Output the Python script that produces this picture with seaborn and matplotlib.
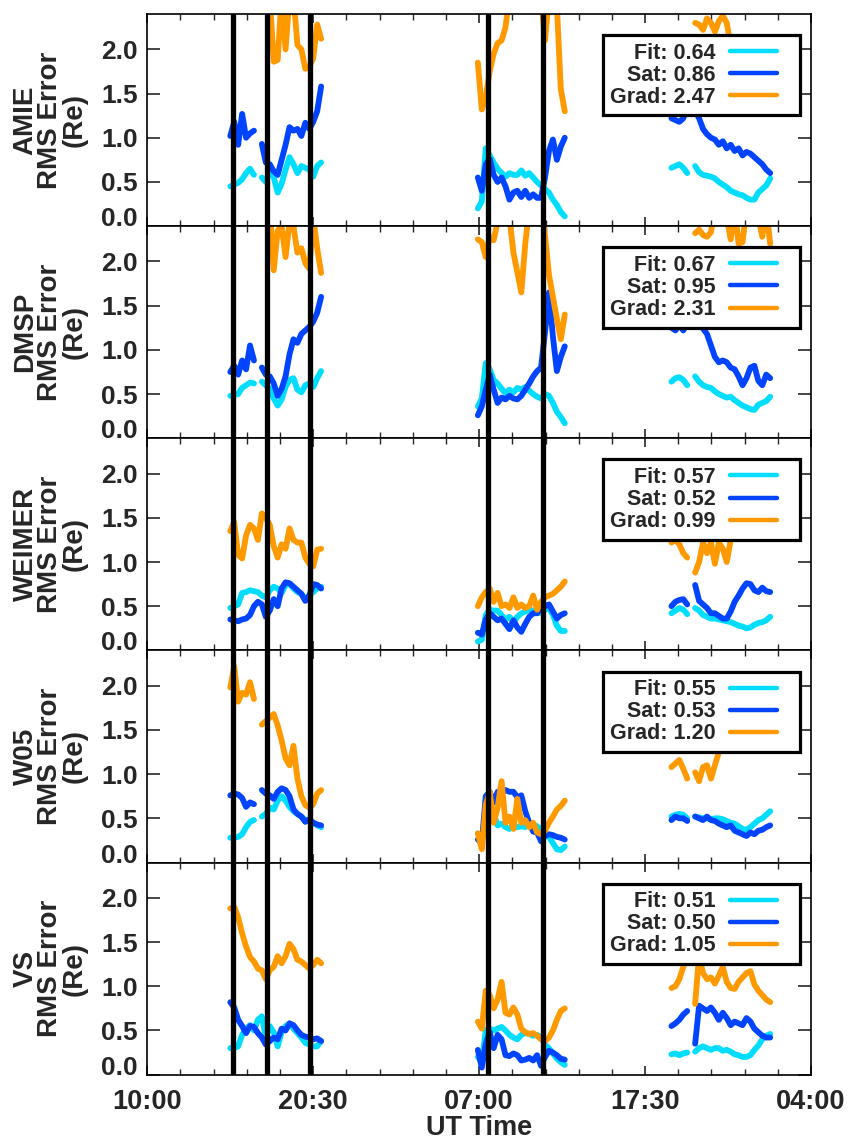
import numpy as np
import pandas as pd
import matplotlib
matplotlib.use("Agg")
import matplotlib.pyplot as plt
from matplotlib.lines import Line2D
from matplotlib.legend_handler import HandlerLine2D
import seaborn as sns

nan = np.nan

# ---------------------------------------------------------------- data
models = ["AMIE", "DMSP", "WEIMER", "W05", "VS"]
metrics = ["Fit", "Sat", "Grad"]
fit_rms = [0.64, 0.67, 0.57, 0.55, 0.51]
sat_rms = [0.86, 0.95, 0.52, 0.53, 0.50]
grad_rms = [2.47, 2.31, 0.99, 1.20, 1.05]

# three observation passes, 15-minute cadence
pass_starts = ["2000-01-01 15:15", "2000-01-02 06:55", "2000-01-02 19:10"]
pass_ends = ["2000-01-01 21:00", "2000-01-02 12:25", "2000-01-03 01:25"]

event_times = ["2000-01-01 15:24", "2000-01-01 17:35", "2000-01-01 20:19",
               "2000-01-02 07:34", "2000-01-02 11:03"]

tick_labels = ["10:00", "20:30", "07:00", "17:30", "04:00"]

amie_fit = [0.45, 0.47, 0.49, 0.53, 0.60, 0.65, 0.58, nan, 0.55, 0.50, 0.63, 0.55,
            0.38, 0.48, 0.64, 0.78, 0.70, 0.60, 0.68, 0.66, 0.64, 0.56, 0.68, 0.72,
            0.20, 0.28, 0.88, 0.80, 0.72, 0.65, 0.60, 0.56, 0.60, 0.58, 0.58, 0.63,
            0.57, 0.60, 0.55, 0.50, 0.46, 0.42, 0.38, 0.30, 0.24, 0.16, 0.11,
            0.66, 0.68, 0.70, 0.66, 0.60, nan, 0.68, 0.61, 0.58, 0.57, 0.56, 0.54,
            0.50, 0.47, 0.44, 0.40, 0.38, 0.36, 0.35, 0.32, 0.30, 0.30, 0.38, 0.42,
            0.46, 0.54]
amie_sat = [1.02, 1.18, 0.92, 1.27, 1.00, 1.05, 1.08, nan, 0.93, 0.72, 0.70, 0.62,
            0.58, 0.75, 0.92, 1.12, 1.08, 1.10, 1.02, 1.17, 1.10, 1.18, 1.30, 1.58,
            0.55, 0.40, 0.70, 0.76, 0.58, 0.50, 0.55, 0.45, 0.30, 0.38, 0.40, 0.33,
            0.40, 0.32, 0.36, 0.32, 0.32, 0.55, 0.85, 0.98, 0.75, 0.90, 1.00,
            1.22, 1.20, 1.18, 1.22, 1.35, nan, 1.30, 1.22, 1.10, 1.04, 1.00, 0.98,
            0.92, 0.96, 0.88, 0.92, 0.85, 0.88, 0.80, 0.84, 0.82, 0.78, 0.74, 0.70,
            0.64, 0.60]
amie_grad = [nan, nan, nan, nan, nan, nan, nan, nan, nan, nan, 2.60, 1.86,
             1.88, 2.60, 2.00, 2.60, 2.60, 2.05, 2.00, 1.78, 1.80, 1.90, 2.28, 2.12,
             1.85, 1.32, 1.45, 1.75, 1.95, 2.07, 2.10, 2.25, 2.60, 2.80, 3.00, 2.90,
             3.10, 2.90, 2.70, 2.80, 2.60, 2.10, 2.60, 2.70, 2.50, 1.55, 1.30,
             1.95, 2.00, 1.90, 2.05, 2.00, nan, 2.30, 2.28, 2.22, 2.35, 2.30, 2.20,
             2.32, 2.38, 2.30, 2.05, 1.95, 2.00, 1.90, 1.85, 1.90, 1.80, 1.85, 1.75,
             1.80, 1.70]

dmsp_fit = [0.48, 0.49, 0.50, 0.57, 0.60, 0.63, 0.62, nan, 0.64, 0.60, 0.56, 0.45,
            0.37, 0.44, 0.58, 0.66, 0.68, 0.55, 0.52, 0.60, 0.62, 0.58, 0.68, 0.76,
            0.36, 0.45, 0.85, 0.78, 0.66, 0.62, 0.56, 0.51, 0.55, 0.52, 0.57, 0.55,
            0.58, 0.54, 0.50, 0.47, 0.45, 0.50, 0.48, 0.40, 0.30, 0.24, 0.17,
            0.64, 0.68, 0.69, 0.66, 0.60, nan, 0.70, 0.64, 0.60, 0.58, 0.57, 0.53,
            0.50, 0.48, 0.46, 0.47, 0.43, 0.40, 0.37, 0.35, 0.33, 0.32, 0.38, 0.40,
            0.42, 0.47]
dmsp_sat = [0.75, 0.82, 0.72, 0.88, 0.78, 1.05, 0.88, nan, 0.80, 0.72, 0.70, 0.62,
            0.48, 0.56, 0.70, 0.95, 1.12, 1.08, 1.18, 1.22, 1.26, 1.32, 1.42, 1.60,
            0.26, 0.36, 0.55, 0.72, 0.55, 0.40, 0.46, 0.44, 0.48, 0.45, 0.44, 0.48,
            0.55, 0.62, 0.70, 0.76, 0.80, 1.20, 1.65, 1.15, 0.76, 0.92, 1.04,
            1.25, 1.22, 1.28, 1.22, 1.30, nan, 1.40, 1.30, 1.24, 1.18, 1.05, 0.92,
            0.86, 0.88, 0.86, 0.80, 0.78, 0.70, 0.60, 0.68, 0.80, 0.82, 0.65, 0.60,
            0.72, 0.68]
dmsp_grad = [nan, nan, nan, nan, nan, nan, nan, nan, nan, nan, 2.60, 1.90,
             2.35, 2.40, 2.05, 2.45, 2.40, 2.10, 2.15, 1.98, 1.92, 2.50, 2.15, 1.87,
             2.25, 2.22, 2.05, 2.28, 2.24, 2.45, 2.60, 2.70, 2.50, 2.10, 1.88, 1.65,
             2.20, 2.60, 2.70, 2.70, 2.60, 2.30, 1.85, 1.60, 1.35, 1.12, 1.40,
             2.60, 2.70, 2.60, 2.70, 2.60, nan, 2.32, 2.36, 2.30, 2.28, 2.33, 2.60,
             2.70, 2.60, 2.50, 2.25, 2.60, 2.20, 2.22, 2.60, 2.70, 2.60, 2.50, 2.28,
             2.60, 2.20]

weimer_fit = [0.48, 0.50, 0.52, 0.65, 0.66, 0.68, 0.67, 0.66, 0.62, 0.60, 0.68, 0.72,
              0.70, 0.65, 0.74, 0.75, 0.70, 0.66, 0.64, 0.58, 0.62, 0.66, 0.70, 0.72,
              0.10, 0.12, 0.40, 0.46, 0.45, 0.45, 0.40, 0.35, 0.38, 0.32, 0.38, 0.42,
              0.44, 0.46, 0.45, 0.44, 0.42, 0.46, 0.48, 0.40, 0.28, 0.22, 0.22,
              0.42, 0.45, 0.48, 0.46, 0.41, nan, 0.48, 0.45, 0.40, 0.38, 0.36, 0.36,
              0.35, 0.34, 0.33, 0.32, 0.30, 0.28, 0.27, 0.25, 0.26, 0.29, 0.31, 0.32,
              0.34, 0.38]
weimer_sat = [0.35, 0.34, 0.33, 0.35, 0.36, 0.40, 0.50, 0.55, 0.52, 0.38, 0.45, 0.58,
              0.50, 0.70, 0.77, 0.76, 0.72, 0.68, 0.64, 0.56, 0.62, 0.75, 0.74, 0.70,
              0.20, 0.18, 0.35, 0.42, 0.38, 0.34, 0.36, 0.30, 0.24, 0.34, 0.26, 0.21,
              0.30, 0.38, 0.42, 0.42, 0.48, 0.50, 0.52, 0.44, 0.36, 0.40, 0.42,
              0.50, 0.55, 0.57, 0.58, 0.52, nan, 0.74, 0.56, 0.52, 0.48, 0.42, 0.42,
              0.39, 0.36, 0.36, 0.44, 0.55, 0.62, 0.70, 0.76, 0.75, 0.68, 0.66, 0.71,
              0.67, 0.66]
weimer_grad = [1.35, 1.45, 1.08, 1.04, 1.30, 1.42, 1.38, 1.25, 1.55, 1.50, 1.42, 1.18,
               1.05, 1.20, 1.15, 1.38, 1.25, 1.22, 1.22, 1.05, 0.98, 0.95, 1.14, 1.15,
               0.50, 0.60, 0.66, 0.70, 0.55, 0.65, 0.50, 0.52, 0.48, 0.60, 0.48, 0.52,
               0.48, 0.50, 0.62, 0.46, 0.55, 0.60, 0.62, 0.64, 0.68, 0.72, 0.78,
               1.22, 1.25, 1.20, 1.10, 1.05, nan, 0.88, 1.00, 1.22, 1.10, 1.22, 0.98,
               1.22, 1.15, 1.00, 1.25, 1.45, 1.60, 1.50, 1.70, 1.60, 1.55, 1.70, 1.65,
               1.55, 1.60]

w05_fit = [0.28, 0.28, 0.29, 0.32, 0.40, 0.46, 0.48, nan, 0.52, 0.55, 0.62, 0.60,
           0.70, 0.75, 0.70, 0.63, 0.58, 0.55, 0.52, 0.48, 0.47, 0.45, 0.42, 0.40,
           0.33, 0.25, 0.60, 0.66, 0.55, 0.42, 0.44, 0.40, 0.38, 0.42, 0.40, 0.41,
           0.40, 0.45, 0.43, 0.41, 0.37, 0.33, 0.29, 0.22, 0.15, 0.14, 0.18,
           0.52, 0.54, 0.55, 0.54, 0.50, nan, 0.52, 0.51, 0.50, 0.50, 0.49, 0.50,
           0.50, 0.49, 0.47, 0.45, 0.44, 0.41, 0.38, 0.37, 0.40, 0.44, 0.48, 0.50,
           0.54, 0.58]
w05_sat = [0.76, 0.78, 0.77, 0.73, 0.63, 0.68, 0.66, nan, 0.82, 0.78, 0.76, 0.72,
           0.80, 0.84, 0.82, 0.75, 0.60, 0.55, 0.52, 0.46, 0.49, 0.45, 0.43, 0.42,
           0.26, 0.22, 0.75, 0.80, 0.68, 0.80, 0.78, 0.82, 0.80, 0.80, 0.74, 0.76,
           0.58, 0.45, 0.35, 0.34, 0.24, 0.30, 0.32, 0.31, 0.29, 0.28, 0.26,
           0.48, 0.52, 0.50, 0.50, 0.47, nan, 0.52, 0.50, 0.48, 0.52, 0.48, 0.47,
           0.44, 0.42, 0.40, 0.42, 0.36, 0.34, 0.32, 0.30, 0.34, 0.32, 0.36, 0.37,
           0.40, 0.42]
w05_grad = [1.98, 2.22, 1.82, 1.92, 1.90, 2.04, 1.85, nan, 1.56, 1.60, 1.64, 1.68,
            1.55, 1.38, 1.18, 1.10, 1.32, 0.95, 0.75, 0.65, 0.62, 0.66, 0.78, 0.82,
            0.33, 0.15, 0.65, 0.80, 0.45, 0.62, 0.92, 0.45, 0.52, 0.38, 0.72, 0.45,
            0.48, 0.40, 0.45, 0.34, 0.32, 0.36, 0.45, 0.52, 0.60, 0.64, 0.70,
            1.08, 1.12, 1.16, 1.06, 0.95, nan, 1.02, 0.92, 1.08, 1.10, 0.95, 1.10,
            1.25, 1.45, 1.55, 1.60, 1.50, 1.65, 1.55, 1.60, 1.50, 1.55, 1.45, 1.50,
            1.42, 1.48]

vs_fit = [0.30, 0.30, 0.32, 0.45, 0.52, 0.56, 0.50, 0.62, 0.66, 0.42, 0.55, 0.48,
          0.32, 0.48, 0.55, 0.58, 0.52, 0.47, 0.42, 0.36, 0.34, 0.32, 0.32, 0.38,
          0.20, 0.14, 0.50, 0.52, 0.50, 0.52, 0.54, 0.50, 0.45, 0.42, 0.40, 0.45,
          0.47, 0.46, 0.44, 0.45, 0.42, 0.34, 0.30, 0.24, 0.18, 0.14, 0.11,
          0.23, 0.24, 0.22, 0.24, 0.25, nan, 0.26, 0.30, 0.32, 0.30, 0.28, 0.30,
          0.30, 0.27, 0.28, 0.26, 0.23, 0.22, 0.20, 0.20, 0.22, 0.28, 0.33, 0.40,
          0.44, 0.46]
vs_sat = [0.82, 0.76, 0.62, 0.55, 0.47, 0.55, 0.54, 0.47, 0.42, 0.34, 0.38, 0.42,
          0.40, 0.52, 0.50, 0.58, 0.56, 0.50, 0.45, 0.43, 0.42, 0.40, 0.41, 0.38,
          0.28, 0.08, 0.35, 0.48, 0.30, 0.45, 0.40, 0.22, 0.21, 0.24, 0.22, 0.16,
          0.17, 0.19, 0.16, 0.22, 0.10, 0.20, 0.27, 0.25, 0.22, 0.18, 0.17,
          0.55, 0.58, 0.62, 0.68, 0.72, nan, 0.35, 0.78, 0.75, 0.72, 0.76, 0.70,
          0.62, 0.70, 0.64, 0.56, 0.60, 0.58, 0.56, 0.64, 0.60, 0.52, 0.48, 0.44,
          0.42, 0.42]
vs_grad = [1.88, 1.90, 1.78, 1.60, 1.45, 1.33, 1.28, 1.20, 1.18, 1.08, 1.18, 1.22,
           1.34, 1.26, 1.34, 1.48, 1.42, 1.30, 1.28, 1.24, 1.20, 1.24, 1.30, 1.26,
           0.60, 0.52, 0.95, 0.90, 0.75, 0.85, 1.05, 0.70, 0.68, 0.76, 0.68, 0.52,
           0.48, 0.46, 0.47, 0.44, 0.40, 0.38, 0.42, 0.50, 0.62, 0.72, 0.75,
           0.98, 1.00, 1.08, 1.22, 1.40, nan, 0.80, 1.35, 1.15, 1.08, 1.10, 1.03,
           1.12, 1.22, 1.05, 0.98, 0.97, 1.05, 1.10, 1.15, 1.17, 1.02, 0.95, 0.90,
           0.85, 0.82]

series = {
    "AMIE": (amie_fit, amie_sat, amie_grad),
    "DMSP": (dmsp_fit, dmsp_sat, dmsp_grad),
    "WEIMER": (weimer_fit, weimer_sat, weimer_grad),
    "W05": (w05_fit, w05_sat, w05_grad),
    "VS": (vs_fit, vs_sat, vs_grad),
}

colors = {"Fit": "#00DDFF", "Sat": "#0044FF", "Grad": "#FF9900"}

# ---------------------------------------------------------------- long table
times = pd.DatetimeIndex(np.concatenate([
    pd.date_range(s, e, freq="15min").values for s, e in zip(pass_starts, pass_ends)
]))
new_pass = np.r_[True, np.diff(times.values) > np.timedelta64(15, "m")]

frames = []
for model in models:
    for metric, vals in zip(metrics, series[model]):
        v = np.asarray(vals, dtype=float)
        piece = np.cumsum(new_pass | np.isnan(v))
        frames.append(pd.DataFrame({"model": model, "metric": metric,
                                    "time": times, "rms": v, "piece": piece}))
df = pd.concat(frames, ignore_index=True).dropna(subset=["rms"])

# ---------------------------------------------------------------- style
sns.set_style("white")
plt.rcParams["font.family"] = ["Liberation Sans", "DejaVu Sans"]
plt.rcParams["font.weight"] = "bold"
plt.rcParams["axes.labelweight"] = "bold"
plt.rcParams["axes.linewidth"] = 1.2
plt.rcParams["axes.edgecolor"] = "black"


class ShortLineHandler(HandlerLine2D):
    """Legend key drawn over the left part of the handle box only."""

    def create_artists(self, legend, orig_handle, xdescent, ydescent,
                       width, height, fontsize, trans):
        y = (height - ydescent) / 2
        seg = Line2D([-xdescent, -xdescent + 0.75 * width], [y, y])
        self.update_prop(seg, orig_handle, legend)
        seg.set_transform(trans)
        return [seg]


fig, axes = plt.subplots(5, 1, sharex=True, figsize=(8.48, 11.39), dpi=100)
fig.subplots_adjust(left=0.1737, right=0.9564, top=0.9877, bottom=0.0565, hspace=0)

x_start = pd.Timestamp("2000-01-01 10:00")
x_end = pd.Timestamp("2000-01-03 04:00")
major_ticks = pd.date_range(x_start, x_end, periods=len(tick_labels))
minor_ticks = pd.date_range(x_start, x_end, periods=21)

for i, (ax, model) in enumerate(zip(axes, models)):
    sub = df[df["model"] == model]
    sns.lineplot(data=sub, x="time", y="rms", hue="metric", hue_order=metrics,
                 palette=colors, units="piece", estimator=None, linewidth=4.2,
                 legend=False, ax=ax)
    for t in event_times:
        ax.axvline(pd.Timestamp(t), color="black", linewidth=3.8, zorder=4)

    ax.set_xlim(x_start, x_end)
    ax.set_ylim(0, 2.4)
    ax.set_yticks([0.0, 0.5, 1.0, 1.5, 2.0])
    ax.set_yticklabels(["0.0", "0.5", "1.0", "1.5", "2.0"])
    ax.set_xticks(major_ticks)
    ax.set_xticks(minor_ticks, minor=True)
    ax.set_xticklabels(tick_labels)
    ax.tick_params(axis="y", which="major", direction="in", length=9.5, width=1.2,
                   left=True, right=True, labelsize=19, pad=7)
    ax.tick_params(axis="x", which="major", direction="in", length=6.5, width=1.2,
                   bottom=True, top=True, labelsize=19.5, pad=10)
    ax.tick_params(axis="x", which="minor", direction="in", length=4.5, width=1.0,
                   bottom=True, top=True)
    for lab in ax.get_yticklabels() + ax.get_xticklabels():
        lab.set_fontweight("bold")
    # the zero label rests on the panel floor so it clears the panel below
    ax.get_yticklabels()[0].set_verticalalignment("baseline")

    ax.set_ylabel(f"{model}\nRMS Error\n(Re)", fontsize=20, fontweight="bold",
                  linespacing=0.92, va="center", ha="center", multialignment="center")
    ax.yaxis.set_label_coords(-0.1466, 0.5)
    ax.set_xlabel("")

    handles = [Line2D([], [], color=colors[m], linewidth=3.2) for m in metrics]
    labels = [f"Fit: {fit_rms[i]:.2f}", f"Sat: {sat_rms[i]:.2f}",
              f"Grad: {grad_rms[i]:.2f}"]
    leg = ax.legend(handles, labels, loc="upper right", bbox_to_anchor=(0.983, 0.90),
                    borderaxespad=0, markerfirst=False, frameon=True, fancybox=False,
                    framealpha=1, edgecolor="black",
                    prop={"family": "Liberation Sans", "weight": "bold", "size": 15.5},
                    handlelength=2.9, handletextpad=0.65, labelspacing=0.05,
                    borderpad=0.35, handler_map={Line2D: ShortLineHandler()})
    leg.get_frame().set_linewidth(2.3)
    leg.set_zorder(6)

axes[-1].set_xlabel("UT Time", fontsize=19.5, fontweight="bold", labelpad=0)
axes[-1].xaxis.set_major_formatter(plt.FixedFormatter(tick_labels))

fig.savefig("out.png", dpi=100)
